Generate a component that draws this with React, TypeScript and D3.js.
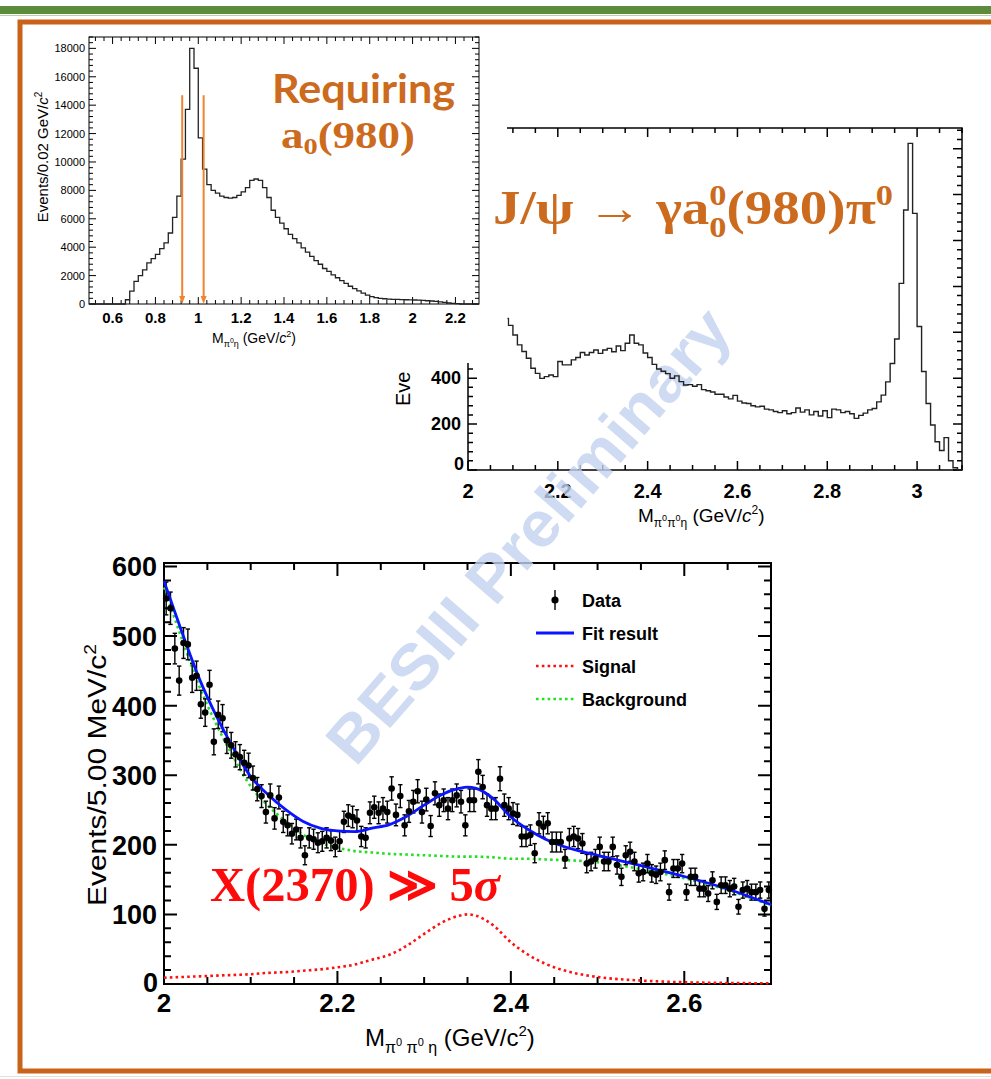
import React from "react";
import * as d3 from "d3";

// ---------- Panel 1: M(pi0 eta), 0.02 GeV bins ----------
const p1BinLow = 0.64;
const p1BinWidth = 0.02;
const p1Counts = [0, 300, 900, 1600, 2000, 2400, 2900, 3200, 3500, 3900, 4300, 5000, 6100, 7600, 10200, 13700, 18000, 16600, 11700, 9500, 8400, 8000, 7800, 7600, 7500, 7450, 7500, 7650, 7900, 8200, 8700, 8800, 8700, 8200, 7500, 6600, 6100, 5700, 5300, 4900, 4600, 4300, 3950, 3650, 3350, 3050, 2800, 2500, 2300, 2050, 1850, 1650, 1450, 1250, 1080, 920, 760, 620, 520, 450, 400, 370, 350, 330, 320, 310, 300, 290, 280, 270, 250, 230, 210, 180, 150, 110, 70, 40, 20, 0];
const p1ArrowMass = [0.925, 1.025];
const p1ArrowTop = 14700;
const p1XTicks = [0.6, 0.8, 1, 1.2, 1.4, 1.6, 1.8, 2, 2.2];
const p1YTicks = [0, 2000, 4000, 6000, 8000, 10000, 12000, 14000, 16000, 18000];

// ---------- Panel 2: M(pi0 pi0 eta), 0.01 GeV bins ----------
const p2BinLow = 2.08;
const p2BinWidth = 0.01;
const p2Counts = [660, 630, 588, 545, 516, 487, 443, 421, 399, 407, 414, 407, 473, 458, 458, 480, 490, 512, 501, 512, 523, 508, 523, 530, 515, 540, 520, 552, 588, 552, 545, 510, 490, 460, 440, 430, 420, 400, 410, 385, 370, 372, 365, 372, 350, 345, 340, 330, 330, 318, 310, 325, 300, 292, 290, 280, 275, 278, 265, 262, 255, 250, 258, 245, 250, 270, 252, 262, 240, 255, 235, 258, 228, 265, 262, 250, 255, 245, 225, 238, 248, 262, 268, 297, 326, 384, 464, 571, 813, 1133, 1423, 1118, 625, 429, 290, 196, 123, 85, 141, 40, 10, 0];
const p2XTicks = [2, 2.2, 2.4, 2.6, 2.8, 3];
const p2YTicks = [0, 200, 400];

// ---------- Panel 3: fit, 5 MeV bins ----------
const p3BinLow = 2.0;
const p3BinWidth = 0.005;
const p3Counts = [554, 540, 482, 436, 490, 488, 440, 443, 402, 390, 430, 348, 387, 382, 350, 343, 330, 326, 318, 314, 296, 280, 270, 247, 271, 238, 268, 233, 228, 216, 222, 210, 185, 210, 208, 203, 205, 210, 206, 197, 205, 233, 242, 240, 235, 212, 210, 246, 254, 246, 252, 247, 281, 243, 270, 228, 248, 262, 277, 247, 265, 227, 274, 257, 264, 252, 264, 271, 262, 228, 264, 264, 305, 283, 257, 252, 252, 295, 257, 252, 245, 243, 212, 212, 214, 188, 231, 226, 231, 204, 204, 204, 180, 209, 212, 209, 202, 173, 176, 180, 197, 176, 176, 197, 171, 154, 185, 190, 176, 159, 161, 173, 159, 157, 161, 178, 132, 166, 166, 173, 132, 154, 154, 137, 137, 130, 149, 118, 142, 142, 137, 140, 111, 135, 137, 132, 132, 135, 108, 135];
const fitMass = [2.0, 2.02, 2.04, 2.06, 2.08, 2.1, 2.12, 2.14, 2.16, 2.18, 2.2, 2.22, 2.24, 2.26, 2.28, 2.3, 2.32, 2.34, 2.35, 2.36, 2.38, 2.4, 2.42, 2.44, 2.46, 2.48, 2.5, 2.55, 2.6, 2.65, 2.7];
const fitBackground = [570, 498, 430, 374, 326, 284, 256, 234, 215, 203, 196, 191, 189, 187, 186, 185, 184, 183, 183, 183, 182, 180, 180, 179, 178, 177, 175, 165, 152, 135, 113];
const fitSignal = [9, 10, 11, 12, 13, 14, 16, 17, 19, 21, 24, 28, 35, 42, 55, 72, 88, 98, 100, 98, 84, 60, 42, 29, 20, 14, 10, 5, 2.5, 1.5, 1];
const fitTotal = [579, 508, 441, 386, 339, 298, 272, 251, 234, 224, 220, 219, 224, 229, 241, 257, 272, 281, 283, 281, 266, 240, 222, 208, 198, 191, 185, 170, 154.5, 136.5, 114];
const p3XTicks = [2, 2.2, 2.4, 2.6];
const p3YTicks = [0, 100, 200, 300, 400, 500, 600];
const legendLabels = ["Data", "Fit result", "Signal", "Background"];

const ORANGE = "#c9631a";
const TEXT_ORANGE = "#cc6a1e";
const SANS = "'Liberation Sans', Arial, Helvetica, sans-serif";
const SERIF = "'Liberation Serif', 'DejaVu Serif', serif";

function steps(a: number, b: number, s: number) {
  const out: number[] = [];
  const n0 = Math.ceil(a / s - 1e-6);
  const n1 = Math.floor(b / s + 1e-6);
  for (let n = n0; n <= n1; n++) out.push(+(n * s).toFixed(6));
  return out;
}
function isMul(v: number, s: number) {
  const r = v / s;
  return Math.abs(r - Math.round(r)) < 1e-6;
}

function Frame(props: any) {
  const { xs, ys, xMaj, xMin, yMaj, yMin, majL, minL, sw } = props;
  const [x0, x1] = xs.range();
  const [y0, y1] = ys.range();
  const xd = xs.domain();
  const yd = ys.domain();
  let d = "";
  steps(xd[0], xd[1], xMin).forEach((v) => {
    const px = xs(v);
    const L = isMul(v, xMaj) ? majL : minL;
    d += `M${px},${y0}V${y0 - L}M${px},${y1}V${y1 + L}`;
  });
  steps(yd[0], yd[1], yMin).forEach((v) => {
    const py = ys(v);
    const L = isMul(v, yMaj) ? majL : minL;
    d += `M${x0},${py}H${x0 + L}M${x1},${py}H${x1 - L}`;
  });
  return (
    <g>
      <path d={d} stroke="#000" strokeWidth={sw} fill="none" />
      <rect x={x0} y={y1} width={x1 - x0} height={y0 - y1} fill="none" stroke="#000" strokeWidth={sw} />
    </g>
  );
}

function stepPath(xs: any, ys: any, low: number, w: number, counts: number[], xStart?: number, xEnd?: number) {
  const pts: [number, number][] = [];
  if (xStart !== undefined) pts.push([xStart, 0]);
  counts.forEach((c, i) => pts.push([low + i * w, c]));
  pts.push([low + counts.length * w, 0]);
  if (xEnd !== undefined) pts.push([xEnd, 0]);
  const line = d3
    .line<[number, number]>()
    .x((p) => xs(p[0]))
    .y((p) => ys(p[1]))
    .curve(d3.curveStepAfter);
  return line(pts) || "";
}

export default function App() {
  const x1s = d3.scaleLinear().domain([0.49, 2.31]).range([89, 479]);
  const y1s = d3.scaleLinear().domain([0, 18800]).range([304, 37]);
  const x2s = d3.scaleLinear().domain([2.0, 3.1]).range([468, 962]);
  const y2s = d3.scaleLinear().domain([0, 1490]).range([470, 128]);
  const x3s = d3.scaleLinear().domain([2.0, 2.7]).range([164, 771]);
  const y3s = d3.scaleLinear().domain([0, 605]).range([984, 563]);

  const curve = (vals: number[]) =>
    d3
      .line<number>()
      .x((_, i) => x3s(fitMass[i]))
      .y((v) => y3s(v))
      .curve(d3.curveMonotoneX)(vals) || "";

  const p1Hist = stepPath(x1s, y1s, p1BinLow, p1BinWidth, p1Counts, 0.49, 2.31);
  const p2Hist = stepPath(x2s, y2s, p2BinLow, p2BinWidth, p2Counts, undefined, 3.1);

  const legendY = [600, 633, 666, 699];

  return (
    <svg width={991} height={1079} viewBox="0 0 991 1079" style={{ display: "block", position: "absolute", left: 0, top: 0 }}>
      <rect x={0} y={0} width={991} height={1079} fill="#fff" />
      <defs>
        <clipPath id="p2clip">
          <rect x={507.5} y={100} width={470} height={400} />
        </clipPath>
      </defs>
      {/* slide decoration */}
      <rect x={0} y={6} width={991} height={8} fill="#5d8b3c" />
      <line x1={0} x2={991} y1={15.5} y2={15.5} stroke="#b7d0a6" strokeWidth={1} />
      <rect x={20} y={22} width={985} height={1049} fill="none" stroke={ORANGE} strokeWidth={5} />
      <line x1={0} x2={991} y1={1076.5} y2={1076.5} stroke="#e4e0d6" strokeWidth={1} />

      {/* ===== Panel 2 (axes) ===== */}
      <Frame xs={x2s} ys={y2s} xMaj={0.2} xMin={0.05} yMaj={200} yMin={40} majL={9} minL={5} sw={1.5} />
      <g fontFamily={SANS} fontWeight="bold" fontSize={20} fill="#000">
        {p2XTicks.map((v) => (
          <text key={v} x={x2s(v)} y={498} textAnchor="middle">{String(v)}</text>
        ))}
      </g>
      <g fontFamily={SANS} fontWeight="bold" fontSize={18} fill="#000">
        {p2YTicks.map((v) => (
          <text key={v} x={v === 0 ? 464 : 461} y={y2s(v) + (v === 0 ? 0 : 6)} textAnchor="end">{String(v)}</text>
        ))}
      </g>
      <text transform="translate(410,406) rotate(-90)" fontFamily={SANS} fontSize={20} fill="#000">Eve</text>
      <text x={638} y={522} fontFamily={SANS} fontSize={19} fill="#000">
        M<tspan fontSize={12} dy={5}>π</tspan><tspan fontSize={9} dy={-6}>0</tspan><tspan fontSize={12} dy={6}>π</tspan><tspan fontSize={9} dy={-6}>0</tspan><tspan fontSize={12} dy={6}>η</tspan><tspan fontSize={19} dy={-5}> (GeV/</tspan><tspan fontStyle="italic">c</tspan><tspan fontSize={12} dy={-8}>2</tspan><tspan fontSize={19} dy={8}>)</tspan>
      </text>

      {/* ===== Panel 1 (overlaid image with white background) ===== */}
      <rect x={25} y={26} width={482} height={337} fill="#fff" />
      <Frame xs={x1s} ys={y1s} xMaj={0.2} xMin={0.04} yMaj={2000} yMin={400} majL={7} minL={4} sw={1} />
      <path d={p1Hist} fill="none" stroke="#222" strokeWidth={1.3} />
      {p1ArrowMass.map((m) => (
        <g key={m}>
          <line x1={x1s(m)} x2={x1s(m)} y1={y1s(p1ArrowTop)} y2={y1s(0) - 6} stroke="#f08435" strokeWidth={2} />
          <path d={`M${x1s(m) - 3},${y1s(0) - 8}L${x1s(m) + 3},${y1s(0) - 8}L${x1s(m)},${y1s(0)}Z`} fill="#f08435" />
        </g>
      ))}
      <g fontFamily={SANS} fontSize={11} fill="#000">
        {p1YTicks.map((v) => (
          <text key={v} x={85} y={y1s(v) + 4} textAnchor="end">{String(v)}</text>
        ))}
      </g>
      <g fontFamily={SANS} fontWeight="bold" fontSize={15} fill="#000">
        {p1XTicks.map((v) => (
          <text key={v} x={x1s(v)} y={323} textAnchor="middle">{String(v)}</text>
        ))}
      </g>
      <text transform="translate(48,157) rotate(-90)" textAnchor="middle" fontFamily={SANS} fontSize={15} fill="#000">
        Events/0.02 GeV/<tspan fontStyle="italic">c</tspan><tspan fontSize={10} dy={-6}>2</tspan>
      </text>
      <text x={212} y={343} fontFamily={SANS} fontSize={14} fill="#000">
        M<tspan fontSize={9} dy={4}>π</tspan><tspan fontSize={7} dy={-4}>0</tspan><tspan fontSize={9} dy={4}>η</tspan><tspan fontSize={14} dy={-4}> (GeV/</tspan><tspan fontStyle="italic">c</tspan><tspan fontSize={9} dy={-6}>2</tspan><tspan fontSize={14} dy={6}>)</tspan>
      </text>
      <text x={272} y={103} fontFamily="Lato, 'Open Sans', sans-serif" fontWeight="bold" fontSize={40} fill={TEXT_ORANGE} textLength={183} lengthAdjust="spacingAndGlyphs">Requiring</text>
      <text x={281} y={148} fontFamily={SERIF} fontWeight="bold" fontSize={38} fill={TEXT_ORANGE} textLength={134} lengthAdjust="spacingAndGlyphs">
        a<tspan fontSize={24} dy={6}>0</tspan><tspan fontSize={38} dy={-6}>(980)</tspan>
      </text>

      {/* Panel 2 title (slide text, on top) */}
      <text x={493} y={224} fontFamily={SERIF} fontWeight="bold" fontSize={48} fill={TEXT_ORANGE} textLength={400} lengthAdjust="spacingAndGlyphs">
        J/ψ → γa<tspan fontSize={30} dy={-19}>0</tspan><tspan fontSize={30} dx={-15} dy={32}>0</tspan><tspan fontSize={48} dy={-13}>(980)π</tspan><tspan fontSize={30} dy={-19}>0</tspan>
      </text>

      {/* ===== Panel 3 ===== */}
      <Frame xs={x3s} ys={y3s} xMaj={0.2} xMin={0.05} yMaj={100} yMin={20} majL={13} minL={7} sw={2} />
      <path d={curve(fitSignal)} fill="none" stroke="#ff1010" strokeWidth={2.6} strokeDasharray="2.6,3.2" />
      <path d={curve(fitBackground)} fill="none" stroke="#22e022" strokeWidth={2.6} strokeDasharray="2.6,3.2" />
      <g stroke="#000" strokeWidth={1.4}>
        {p3Counts.map((c, i) => {
          const cx = x3s(p3BinLow + (i + 0.5) * p3BinWidth);
          const e = Math.sqrt(c);
          const yt = y3s(c + e);
          const yb = y3s(c - e);
          return (
            <g key={i}>
              <line x1={cx} x2={cx} y1={yt} y2={yb} />
              <line x1={cx - 2.2} x2={cx + 2.2} y1={yt} y2={yt} />
              <line x1={cx - 2.2} x2={cx + 2.2} y1={yb} y2={yb} />
            </g>
          );
        })}
      </g>
      <path d={curve(fitTotal)} fill="none" stroke="#0a14ff" strokeWidth={2.8} />
      <g fill="#000">
        {p3Counts.map((c, i) => (
          <circle key={i} cx={x3s(p3BinLow + (i + 0.5) * p3BinWidth)} cy={y3s(c)} r={3.3} />
        ))}
      </g>
      {/* legend */}
      <g>
        <line x1={555} x2={555} y1={legendY[0] - 10} y2={legendY[0] + 10} stroke="#000" strokeWidth={1.4} />
        <circle cx={555} cy={legendY[0]} r={3.6} fill="#000" />
        <line x1={536} x2={574} y1={legendY[1]} y2={legendY[1]} stroke="#0a14ff" strokeWidth={2.8} />
        <line x1={536} x2={574} y1={legendY[2]} y2={legendY[2]} stroke="#ff1010" strokeWidth={2.6} strokeDasharray="2.6,3.2" />
        <line x1={536} x2={574} y1={legendY[3]} y2={legendY[3]} stroke="#22e022" strokeWidth={2.6} strokeDasharray="2.6,3.2" />
        {legendLabels.map((t, i) => (
          <text key={t} x={582} y={legendY[i] + 6.5} fontFamily={SANS} fontWeight="bold" fontSize={18} fill="#000">{t}</text>
        ))}
      </g>
      <g fontFamily={SANS} fontWeight="bold" fontSize={27} fill="#000">
        {p3YTicks.map((v) => (
          <text key={v} x={v === 0 ? 158 : 157} y={y3s(v) + (v === 0 ? 8 : 10)} textAnchor="end">{String(v)}</text>
        ))}
      </g>
      <g fontFamily={SANS} fontWeight="bold" fontSize={26} fill="#000">
        {p3XTicks.map((v) => (
          <text key={"x" + v} x={x3s(v)} y={1012} textAnchor="middle">{String(v)}</text>
        ))}
      </g>
      <text transform="translate(106,775) rotate(-90)" textAnchor="middle" fontFamily={SANS} fontSize={25} fill="#000" textLength={262} lengthAdjust="spacingAndGlyphs">
        Events/5.00 MeV/c<tspan fontSize={16} dy={-10}>2</tspan>
      </text>
      <text x={365} y={1046} fontFamily={SANS} fontSize={24} fill="#000">
        M<tspan fontSize={16} dy={7}>π</tspan><tspan fontSize={11} dy={-7}>0</tspan><tspan fontSize={16} dy={7}> π</tspan><tspan fontSize={11} dy={-7}>0</tspan><tspan fontSize={16} dy={7}> η</tspan><tspan fontSize={24} dy={-7}> (GeV/c</tspan><tspan fontSize={15} dy={-10}>2</tspan><tspan fontSize={24} dy={10}>)</tspan>
      </text>
      <text x={210} y={901} fontFamily={SERIF} fontWeight="bold" fontSize={48} fill="#ff0a0a" textLength={290} lengthAdjust="spacingAndGlyphs">
        X(2370) ≫ 5<tspan fontStyle="italic">σ</tspan>
      </text>

      {/* watermark */}
      <text transform="translate(545,550) rotate(-49)" textAnchor="middle" fontFamily={SANS} fontWeight="bold" fontSize={64} fill="#c3d3ef" opacity={0.8} textLength={578} lengthAdjust="spacingAndGlyphs">
        BESIII Preliminary
      </text>

      {/* Panel 2 histogram on top */}
      <path d={p2Hist} fill="none" stroke="#222" strokeWidth={1.4} clipPath="url(#p2clip)" />
    </svg>
  );
}
